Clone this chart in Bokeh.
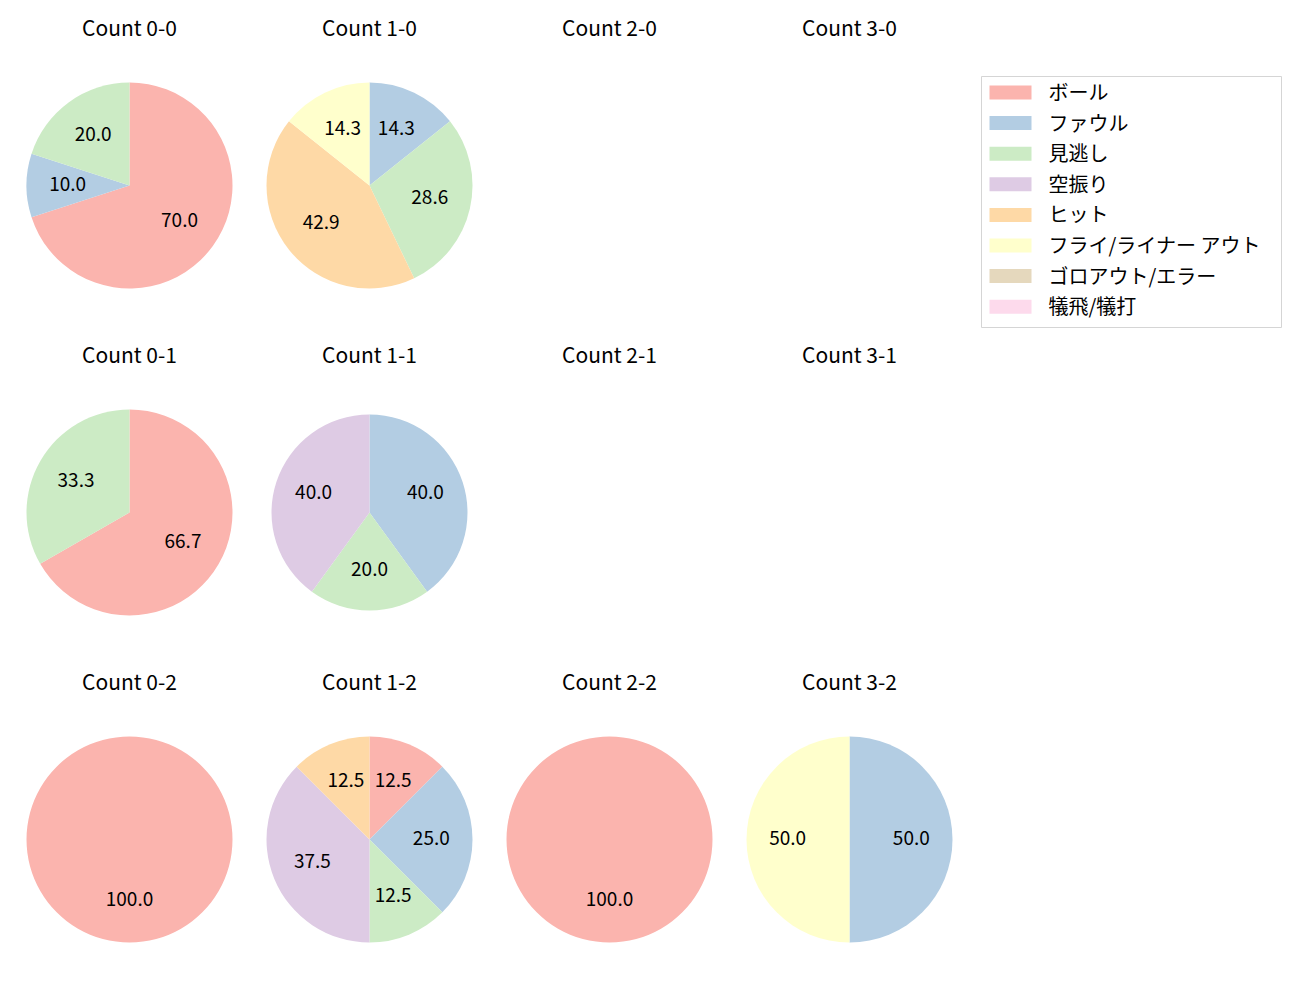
from bokeh.plotting import figure
from bokeh.models import Range1d
from bokeh.embed import file_html
from bokeh.resources import INLINE
from bokeh.core.properties import value
import math

# ---- data ----
categories = ["ボール", "ファウル", "見逃し", "空振り", "ヒット",
              "フライ/ライナー アウト", "ゴロアウト/エラー", "犠飛/犠打"]
colors = ["#fbb4ae", "#b3cde3", "#ccebc5", "#decbe4", "#fed9a6",
          "#ffffcc", "#e5d8bd", "#fddaec"]

counts = ["0-0", "1-0", "2-0", "3-0",
          "0-1", "1-1", "2-1", "3-1",
          "0-2", "1-2", "2-2", "3-2"]
# percentages per category (order as categories)
shares = {
    "0-0": [70.0, 10.0, 20.0, 0, 0, 0, 0, 0],
    "1-0": [0, 14.3, 28.6, 0, 42.9, 14.3, 0, 0],
    "2-0": [],
    "3-0": [],
    "0-1": [66.7, 0, 33.3, 0, 0, 0, 0, 0],
    "1-1": [0, 40.0, 20.0, 40.0, 0, 0, 0, 0],
    "2-1": [],
    "3-1": [],
    "0-2": [100.0, 0, 0, 0, 0, 0, 0, 0],
    "1-2": [12.5, 25.0, 12.5, 37.5, 12.5, 0, 0, 0],
    "2-2": [100.0, 0, 0, 0, 0, 0, 0, 0],
    "3-2": [0, 50.0, 0, 0, 0, 50.0, 0, 0],
}

W, H = 1300, 1000
FONT = "Noto Sans CJK JP"

p = figure(width=W, height=H, output_backend="svg", toolbar_location=None,
           x_range=Range1d(0, W), y_range=Range1d(0, H), min_border=0)
p.axis.visible = False
p.grid.visible = False
p.outline_line_color = None
p.background_fill_color = "white"
p.border_fill_color = "white"

col_x = [129, 369, 609, 849]
row_y = [185, 512, 839]
title_y = [28, 355, 682]
R = 103

for idx, c in enumerate(counts):
    r, k = divmod(idx, 4)
    cx = col_x[k]
    cy = H - row_y[r]
    p.text(x=[cx], y=[H - title_y[r]], text=["Count " + c],
           text_font=value(FONT), text_font_size="21px", text_color="#000000",
           text_align="center", text_baseline="middle", y_offset=-2)
    vals = shares[c]
    total = sum(vals)
    if total == 0:
        continue
    rad = 98 if c == "1-1" else R
    cum = 0.0
    for i, v in enumerate(vals):
        if v <= 0:
            continue
        f0 = cum / total
        f1 = (cum + v) / total
        cum += v
        sa = math.radians(90 - f1 * 360)
        ea = math.radians(90 - f0 * 360)
        if f1 - f0 >= 0.9999:
            ea = sa + 2 * math.pi - 1e-4
        p.wedge(x=[cx], y=[cy], radius=rad, start_angle=[sa], end_angle=[ea],
                fill_color=colors[i], line_color=None, direction="anticlock")
        mid = math.radians(90 - (f0 + f1) / 2 * 360)
        lx = cx + 0.6 * rad * math.cos(mid)
        ly = cy + 0.6 * rad * math.sin(mid)
        p.text(x=[lx], y=[ly], text=["%.1f" % (v / total * 100)],
               text_font=value(FONT), text_font_size="19px", text_color="#000000",
               text_align="center", text_baseline="middle", y_offset=-2)

# ---- legend (drawn manually, matplotlib style) ----
lx0, ly0, lx1, ly1 = 981, 76, 1281, 327
p.quad(left=[lx0], right=[lx1], top=[H - ly0], bottom=[H - ly1],
       fill_color="white", fill_alpha=0.8, line_color="#d5d5d5", line_width=1)
for i, (cat, col) in enumerate(zip(categories, colors)):
    yc = 92 + i * 30.6
    p.quad(left=[989], right=[1031], top=[H - (yc - 7)], bottom=[H - (yc + 7)],
           fill_color=col, line_color=None)
    p.text(x=[1048], y=[H - yc], text=[cat], text_font=value(FONT),
           text_font_size="20px", text_color="#000000",
           text_align="left", text_baseline="middle", y_offset=-1)

open("out.html", "w").write(file_html(p, INLINE))
